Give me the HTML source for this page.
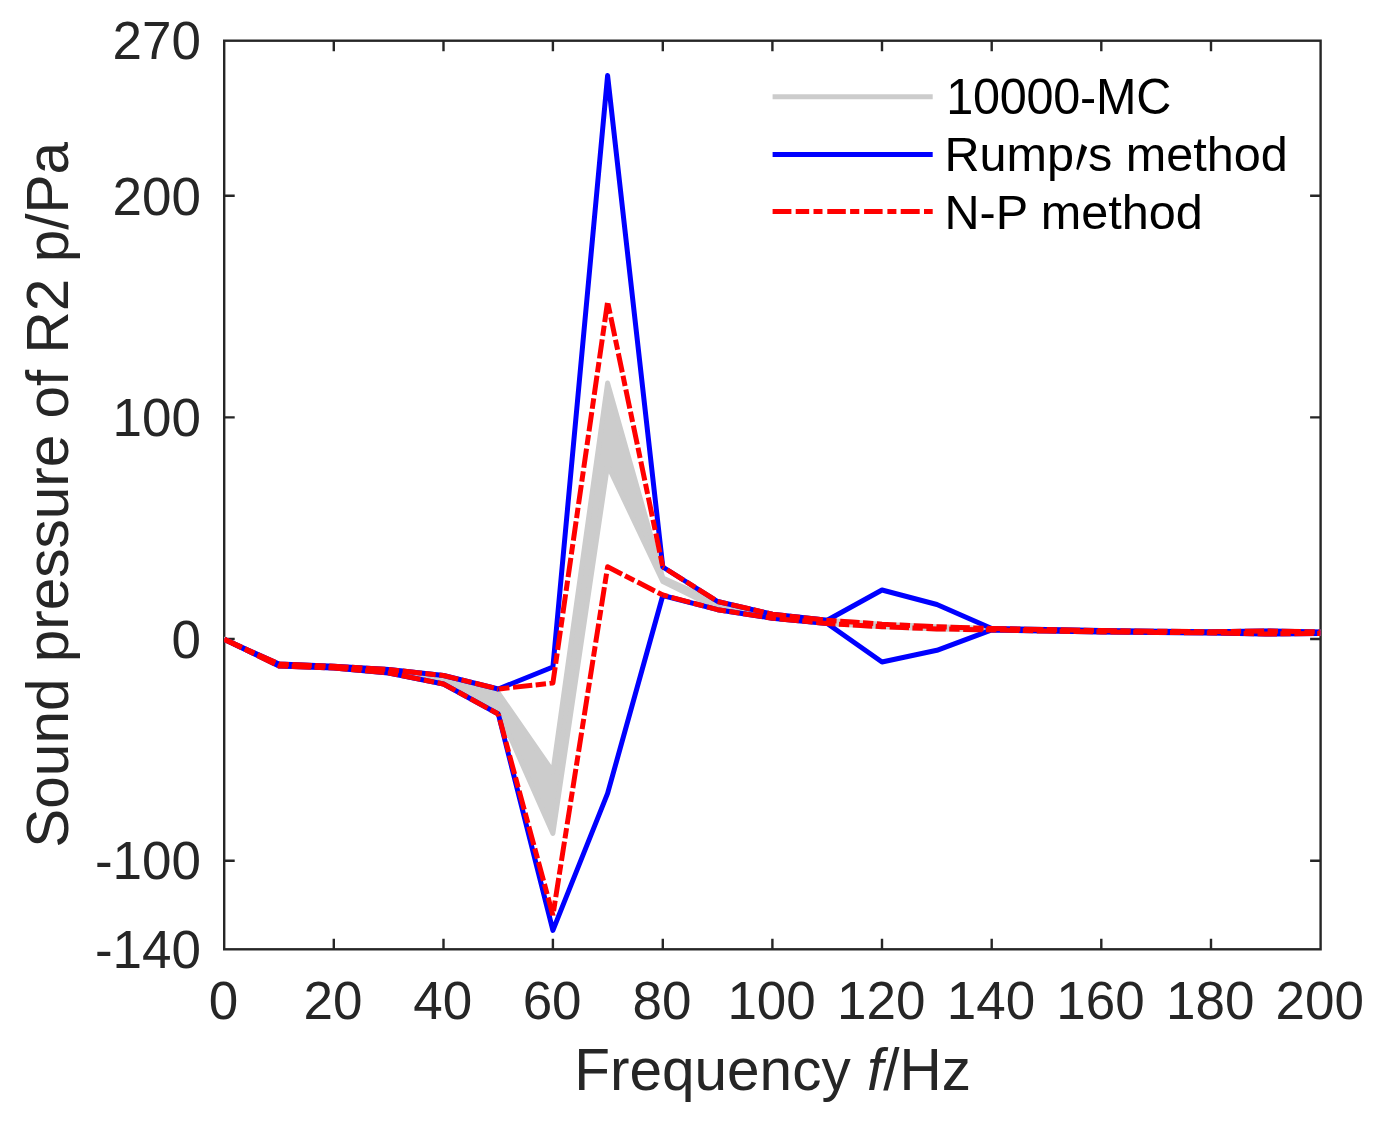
<!DOCTYPE html>
<html lang="en"><head><meta charset="utf-8"><title>Sound pressure of R2</title>
<style>
html,body{margin:0;padding:0;background:#fff;}
body{width:1390px;height:1122px;overflow:hidden;}
svg{display:block;}
text{font-family:"Liberation Sans",Arial,Helvetica,sans-serif;}
.tk{font-size:53px;fill:#262626;}
.lb{font-size:58.3px;fill:#262626;}
.lg{font-size:48.6px;fill:#000;}
</style></head><body>
<svg width="1390" height="1122" viewBox="0 0 1390 1122">
<rect width="1390" height="1122" fill="#fff"/>
<defs><clipPath id="cp"><rect x="224.2" y="40.7" width="1096.4" height="908.6"/></clipPath></defs>

<g stroke="#262626" stroke-width="2.4" fill="none" stroke-linecap="butt">
<rect x="224.2" y="40.7" width="1096.4" height="908.6"/>
<path d="M333.8 949.3v-10.5M333.8 40.7v10.5"/>
<path d="M443.5 949.3v-10.5M443.5 40.7v10.5"/>
<path d="M552.9 949.3v-10.5M552.9 40.7v10.5"/>
<path d="M662.8 949.3v-10.5M662.8 40.7v10.5"/>
<path d="M772.4 949.3v-10.5M772.4 40.7v10.5"/>
<path d="M882.0 949.3v-10.5M882.0 40.7v10.5"/>
<path d="M991.7 949.3v-10.5M991.7 40.7v10.5"/>
<path d="M1101.3 949.3v-10.5M1101.3 40.7v10.5"/>
<path d="M1211.0 949.3v-10.5M1211.0 40.7v10.5"/>
<path d="M224.2 195.8h10.5M1320.6 195.8h-10.5"/>
<path d="M224.2 417.4h10.5M1320.6 417.4h-10.5"/>
<path d="M224.2 639.0h10.5M1320.6 639.0h-10.5"/>
<path d="M224.2 860.7h10.5M1320.6 860.7h-10.5"/>
</g>
<g clip-path="url(#cp)" fill="none" stroke-linejoin="miter" stroke-miterlimit="4">
<polygon points="224.2,639.3 279.0,664.0 333.8,666.3 388.7,669.5 443.5,675.5 498.3,693.0 552.9,771.7 607.6,383.1 662.8,578.0 717.6,602.5 772.4,614.2 827.2,620.3 882.0,624.2 936.9,626.8 991.7,628.5 1046.5,629.6 1101.3,630.6 1156.1,631.2 1211.0,631.7 1265.8,631.0 1320.6,631.9 1320.6,633.4 1265.8,634.0 1211.0,632.9 1156.1,632.4 1101.3,631.9 1046.5,631.1 991.7,629.9 936.9,628.9 882.0,626.7 827.2,623.5 772.4,618.2 717.6,608.5 662.8,581.4 607.6,465.0 552.9,833.5 498.3,710.0 443.5,684.0 388.7,673.0 333.8,668.0 279.0,666.0 224.2,639.3" fill="#cccccc" stroke="#cccccc" stroke-width="5.0" stroke-linejoin="round"/>
<polyline points="224.2,639.3 279.0,664.0 333.8,666.3 388.7,669.5 443.5,675.5 498.3,689.0 552.9,667.0 607.6,75.6 662.8,567.0 717.6,601.5 772.4,614.2 827.2,620.3 882.0,590.0 936.9,604.5 991.7,628.5 1046.5,629.6 1101.3,630.6 1156.1,631.2 1211.0,631.7 1265.8,631.0 1320.6,631.9" stroke="#0000ff" stroke-width="5.0" stroke-linejoin="round"/>
<polyline points="224.2,639.3 279.0,666.0 333.8,668.0 388.7,673.0 443.5,684.0 498.3,714.0 552.9,930.4 607.6,793.4 662.8,595.5 717.6,609.7 772.4,618.2 827.2,623.5 882.0,662.0 936.9,650.3 991.7,629.9 1046.5,631.1 1101.3,631.9 1156.1,632.4 1211.0,632.9 1265.8,634.0 1320.6,633.4" stroke="#0000ff" stroke-width="5.0" stroke-linejoin="round"/>
<polyline points="224.2,639.3 279.0,664.0 333.8,666.3 388.7,669.5 443.5,675.5 498.3,689.0" stroke="#ff0000" stroke-width="5.0" stroke-linejoin="round" stroke-dasharray="19.4 3.4 10.4 3.6" stroke-dashoffset="0.00"/>
<polyline points="498.3,689.0 552.9,683.0 607.6,301.8" stroke="#ff0000" stroke-width="5.0" stroke-linejoin="round" stroke-dasharray="19.4 3.4 10.4 3.6" stroke-dashoffset="22.03"/>
<polyline points="607.6,301.8 662.8,567.0" stroke="#ff0000" stroke-width="5.0" stroke-linejoin="round" stroke-dasharray="19.4 3.4 10.4 3.6" stroke-dashoffset="20.91"/>
<polyline points="662.8,567.0 717.6,601.5 772.4,614.2 827.2,620.3 882.0,624.2 936.9,626.8 991.7,628.5 1046.5,629.6 1101.3,630.6 1156.1,631.2 1211.0,631.7 1265.8,631.0 1320.6,631.9" stroke="#ff0000" stroke-width="5.0" stroke-linejoin="round" stroke-dasharray="19.4 3.4 10.4 3.6" stroke-dashoffset="31.64"/>
<polyline points="224.2,639.3 279.0,666.0 333.8,668.0 388.7,673.0 443.5,684.0 498.3,714.0" stroke="#ff0000" stroke-width="5.0" stroke-linejoin="round" stroke-dasharray="19.4 3.4 10.4 3.6" stroke-dashoffset="0.00"/>
<polyline points="498.3,714.0 552.9,915.3" stroke="#ff0000" stroke-width="5.0" stroke-linejoin="round" stroke-dasharray="19.4 3.4 10.4 3.6" stroke-dashoffset="30.65"/>
<polyline points="552.9,915.3 607.6,566.8 662.8,595.0" stroke="#ff0000" stroke-width="5.0" stroke-linejoin="round" stroke-dasharray="19.4 3.4 10.4 3.6" stroke-dashoffset="18.45"/>
<polyline points="662.8,595.0 717.6,609.7 772.4,618.2 827.2,623.5 882.0,626.7 936.9,628.9 991.7,629.9 1046.5,631.1 1101.3,631.9 1156.1,632.4 1211.0,632.9 1265.8,634.0 1320.6,633.4" stroke="#ff0000" stroke-width="5.0" stroke-linejoin="round" stroke-dasharray="19.4 3.4 10.4 3.6" stroke-dashoffset="27.81"/>
</g>
<g class="tk" text-anchor="middle">
<text transform="translate(223.4 1019.4) scale(1 1.025)">0</text>
<text transform="translate(333.0 1019.4) scale(1 1.025)">20</text>
<text transform="translate(442.7 1019.4) scale(1 1.025)">40</text>
<text transform="translate(552.1 1019.4) scale(1 1.025)">60</text>
<text transform="translate(662.0 1019.4) scale(1 1.025)">80</text>
<text transform="translate(771.6 1019.4) scale(1 1.025)">100</text>
<text transform="translate(881.2 1019.4) scale(1 1.025)">120</text>
<text transform="translate(990.9 1019.4) scale(1 1.025)">140</text>
<text transform="translate(1100.5 1019.4) scale(1 1.025)">160</text>
<text transform="translate(1210.2 1019.4) scale(1 1.025)">180</text>
<text transform="translate(1319.8 1019.4) scale(1 1.025)">200</text>
</g>
<g class="tk" text-anchor="end">
<text transform="translate(201 59.4) scale(1 1.025)">270</text>
<text transform="translate(201 214.5) scale(1 1.025)">200</text>
<text transform="translate(201 436.1) scale(1 1.025)">100</text>
<text transform="translate(201 657.7) scale(1 1.025)">0</text>
<text transform="translate(201 879.4) scale(1 1.025)">-100</text>
<text transform="translate(201 968.0) scale(1 1.025)">-140</text>
</g>
<text class="lb" style="font-size:58.5px" text-anchor="middle" x="772.6" y="1089.5">Frequency <tspan font-style="italic">f</tspan>/Hz</text>
<text class="lb" text-anchor="middle" style="font-size:58.5px" transform="translate(68.2 494.85) rotate(-90)">Sound pressure of R2 p/Pa</text>
<line x1="772.6" x2="932.7" y1="96.8" y2="96.8" stroke="#cccccc" stroke-width="5.0"/>
<line x1="772.6" x2="932.7" y1="154.6" y2="154.6" stroke="#0000ff" stroke-width="5.0"/>
<line x1="772.6" x2="932.7" y1="211.6" y2="211.6" stroke="#ff0000" stroke-width="5.0" stroke-dasharray="18.8 4.3 13.5 4.3 9 4.8 18.5 4.3 9.2 4.8 18.5 4.8 9 4.3 19 4.3 9"/>
<g class="lg">
<text transform="translate(946.2 114) scale(1 1.03)" letter-spacing="-0.25">10000-MC</text>
<text x="944.5" y="170.8">Rump<tspan x="1065.95" y="213.68" font-family="Liberation Serif, serif" font-size="116" textLength="12.88" lengthAdjust="spacingAndGlyphs" rotate="17.56">′</tspan><tspan x="1087.9" y="170.8">s method</tspan></text>
<text x="944.5" y="228.5">N-P method</text>
</g>
</svg></body></html>
